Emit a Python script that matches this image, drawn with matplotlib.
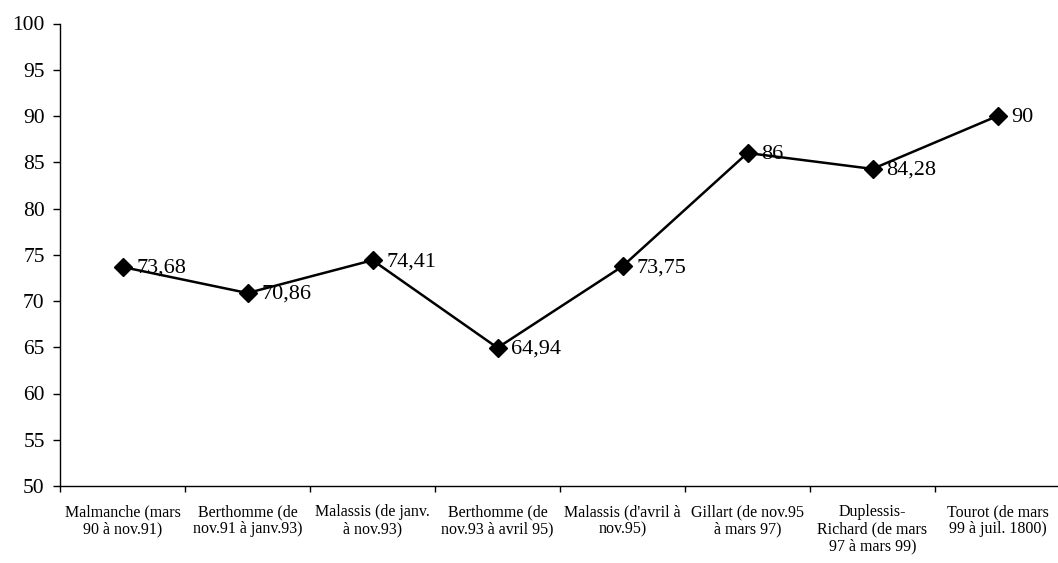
import matplotlib.pyplot as plt
import numpy as np

plt.rcParams['font.family'] = ['Liberation Serif', 'DejaVu Serif']

categories = ["Malmanche (mars\n90 à nov.91)",
              "Berthomme (de\nnov.91 à janv.93)",
              "Malassis (de janv.\nà nov.93)",
              "Berthomme (de\nnov.93 à avril 95)",
              "Malassis (d'avril à\nnov.95)",
              "Gillart (de nov.95\nà mars 97)",
              "Duplessis-\nRichard (de mars\n97 à mars 99)",
              "Tourot (de mars\n99 à juil. 1800)"]
values = [73.68, 70.86, 74.41, 64.94, 73.75, 86, 84.28, 90]
labels = ["73,68", "70,86", "74,41", "64,94", "73,75", "86", "84,28", "90"]

fig = plt.figure(figsize=(10.58, 5.63), dpi=100)
ax = fig.add_axes([60/1058, 1 - 486/563, 1000/1058, (486 - 23.5)/563])

x = np.arange(len(values))
ax.plot(x, values, color='black', linewidth=1.8, marker='D', markersize=9,
        markerfacecolor='black', markeredgecolor='black')

for xi, v, lab in zip(x, values, labels):
    ax.annotate(lab, (xi, v), xytext=(10, -1), textcoords='offset points',
                va='center', ha='left', fontsize=16)

ax.set_xlim(-0.5, len(values) - 0.5)
ax.set_ylim(50, 100)
ax.set_yticks(np.arange(50, 101, 5))
ax.tick_params(axis='y', labelsize=15.5, direction='out', length=5, width=1, pad=6)

ax.set_xticks(x)
ax.set_xticklabels(categories, fontsize=11.5, linespacing=1.1)
ax.tick_params(axis='x', which='major', length=0, pad=13)
ax.set_xticks(np.arange(-0.5, len(values), 1), minor=True)
ax.tick_params(axis='x', which='minor', length=4, width=1, direction='out')

for s in ['top', 'right']:
    ax.spines[s].set_visible(False)
for s in ['left', 'bottom']:
    ax.spines[s].set_linewidth(1)

fig.savefig('out.png', dpi=100)
